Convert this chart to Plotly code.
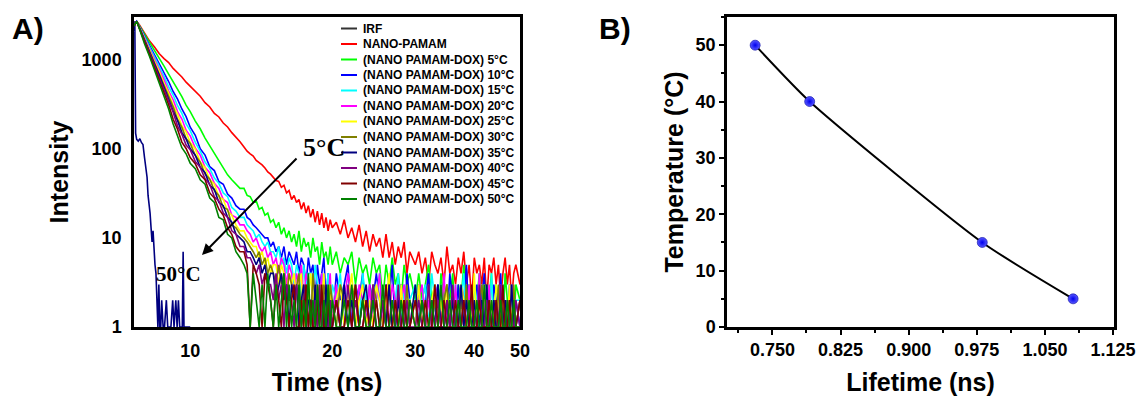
import math
import plotly.graph_objects as go

# ---------------- Panel A data (decay curves) ----------------
time_ns = [7.6, 7.7, 7.8, 8.0, 8.2, 8.4, 8.6, 8.8, 9.0, 9.2, 9.4, 9.6, 9.8, 10.0,
           10.25, 10.5, 10.75, 11.0, 11.25, 11.5, 11.75, 12.0, 12.25, 12.5, 12.75,
           # 13.0 - 20.0 (36)
           13.0, 13.2, 13.4, 13.6, 13.8, 14.0, 14.2, 14.4, 14.6, 14.8,
           15.0, 15.2, 15.4, 15.6, 15.8, 16.0, 16.2, 16.4, 16.6, 16.8,
           17.0, 17.2, 17.4, 17.6, 17.8, 18.0, 18.2, 18.4, 18.6, 18.8,
           19.0, 19.2, 19.4, 19.6, 19.8, 20.0,
           # 20.4 - 30.0 (24)
           20.4, 20.8, 21.2, 21.6, 22.0, 22.4, 22.8, 23.2, 23.6, 24.0,
           24.4, 24.8, 25.2, 25.6, 26.0, 26.4, 26.8, 27.2, 27.6, 28.0,
           28.4, 28.8, 29.2, 30.0,
           # 30.5 - 50.0 (39)
           30.5, 31.0, 31.5, 32.0, 32.5, 33.0, 33.5, 34.0, 34.5, 35.0,
           35.5, 36.0, 36.5, 37.0, 37.5, 38.0, 38.5, 39.0, 39.5, 40.0,
           40.5, 41.0, 41.5, 42.0, 42.5, 43.0, 43.5, 44.0, 44.5, 45.0,
           45.5, 46.0, 46.5, 47.0, 47.5, 48.0, 48.5, 49.0, 50.0]

irf_time = [7.60, 7.63, 7.66, 7.70, 7.76, 7.82, 7.88, 7.94, 8.00, 8.06,
            8.10, 8.14, 8.18, 8.22, 8.26, 8.30, 8.34, 8.38, 8.42, 8.46,
            8.50, 8.54, 8.58, 8.62, 8.66, 8.70, 8.76, 8.82, 8.90, 8.96,
            9.04, 9.10, 9.18, 9.24, 9.32, 9.38, 9.44, 9.50, 9.62, 9.66,
            9.70, 10.0]
irf = [2100, 2700, 150, 128, 122, 130, 118, 112, 80, 55,
       48, 30, 24, 19, 13, 9, 12, 6, 5, 4,
       2, 1, 3, 1, 1, 2, 1, 1, 2, 1,
       1, 1, 2, 1, 2, 1, 2, 1, 1, 7,
       1, 1]

nano_pamam = [2450, 2700, 2480, 1980, 1620, 1390, 1170, 1030, 930, 800, 720, 640, 560, 505,
              440, 390, 330, 295, 250, 228, 195, 176, 152, 136, 120,
              105, 94, 88, 83, 74, 70, 66, 61, 55, 52, 48, 44, 43, 37, 39, 32, 34, 27, 30, 25,
              27, 21, 25, 19, 23, 17, 21, 15, 20, 14, 19, 13, 17, 12, 16, 13,
              15, 11, 16, 10, 13, 9, 14, 8, 12, 7, 11, 8, 10, 6, 11, 6, 9, 5, 8, 6, 9, 4, 7, 5,
              7, 4, 6, 3, 7, 5, 4, 6, 3, 8, 4, 5, 3, 6, 4, 7, 3, 5, 2, 6,
              4, 5, 3, 6, 2, 5, 4, 6, 3, 5, 2, 4, 6, 3, 5, 2, 4, 5, 3]
dox_5 = [2450, 2700, 2420, 1950, 1560, 1290, 1040, 850, 690, 570, 460, 385, 310, 262,
         205, 168, 132, 108, 88, 72, 60, 51, 45, 40, 36,
         36, 30, 29, 25, 26, 21, 22, 18, 19, 15, 16, 13, 15, 11, 13, 10, 12, 9, 11, 8,
         12, 7, 10, 8, 9, 6, 10, 7, 8, 5, 9, 6, 7, 5, 8, 5,
         7, 4, 6, 5, 7, 3, 6, 4, 5, 3, 6, 4, 5, 2, 5, 3, 6, 3, 4, 2, 5, 3, 4, 2,
         4, 2, 3, 5, 2, 3, 1, 4, 2, 3, 2, 4, 1, 3, 2, 5, 2, 3, 1, 3,
         2, 4, 2, 1, 3, 2, 4, 1, 3, 2, 3, 1, 4, 2, 2, 3, 1, 3, 2]
dox_10 = [2450, 2700, 2380, 1850, 1460, 1130, 910, 700, 570, 440, 362, 280, 230, 175,
          142, 100, 85, 63, 57, 43, 40, 31, 28, 23, 21,
          21, 17, 16, 14, 13, 12, 11, 10, 10, 8, 9, 7, 8, 6, 8, 5, 7, 6, 5, 7,
          4, 6, 5, 3, 6, 4, 5, 2, 5, 3, 4, 6, 2, 4, 3, 1,
          4, 2, 3, 5, 1, 3, 2, 4, 1, 3, 2, 4, 2, 1, 3, 2, 5, 1, 2, 3, 1, 4, 2, 1,
          3, 1, 2, 4, 1, 2, 3, 1, 2, 1, 4, 2, 1, 3, 1, 2, 5, 1, 2, 1,
          3, 1, 2, 4, 1, 2, 1, 3, 2, 1, 4, 1, 2, 1, 3, 2, 1, 2, 1]
dox_15 = [2430, 2700, 2350, 1810, 1380, 1085, 828, 655, 498, 402, 305, 250, 190, 160,
          118, 94, 71, 60, 47, 41, 32, 29, 22, 20, 17,
          17, 14, 13, 12, 10, 11, 9, 8, 9, 7, 7, 6, 8, 5, 6, 4, 6, 5, 3, 5,
          4, 2, 5, 3, 4, 4, 2, 5, 3, 1, 4, 3, 2, 4, 1, 3,
          2, 4, 1, 3, 2, 3, 1, 4, 2, 1, 3, 2, 4, 1, 2, 3, 1, 2, 4, 1, 3, 1, 2, 3,
          1, 2, 3, 1, 4, 2, 1, 3, 1, 2, 2, 1, 3, 1, 2, 4, 1, 2, 1, 3,
          2, 1, 1, 3, 2, 1, 4, 1, 2, 1, 2, 3, 1, 2, 1, 3, 1, 2, 2]
dox_20 = [2420, 2700, 2330, 1750, 1320, 1025, 765, 598, 445, 356, 262, 216, 162, 140,
          102, 85, 62, 54, 41, 36, 27, 25, 18, 17, 14,
          14, 12, 11, 9, 10, 8, 7, 8, 6, 7, 5, 6, 4, 6, 5, 3, 5, 4, 2, 4,
          3, 5, 2, 4, 3, 1, 4, 2, 3, 2, 4, 1, 3, 2, 4, 1,
          3, 1, 2, 4, 2, 1, 3, 2, 1, 3, 1, 2, 4, 1, 2, 1, 3, 2, 1, 2, 3, 1, 2, 1,
          2, 3, 1, 2, 1, 3, 2, 1, 4, 1, 2, 1, 3, 1, 2, 2, 1, 3, 1, 2,
          1, 4, 1, 2, 1, 3, 1, 2, 1, 2, 3, 1, 1, 2, 1, 3, 2, 1, 2]
dox_25 = [2420, 2700, 2320, 1700, 1290, 960, 735, 540, 422, 310, 246, 182, 154, 118,
          99, 71, 61, 45, 40, 29, 27, 20, 18, 14, 12,
          12, 10, 9, 8, 8, 6, 7, 5, 6, 4, 5, 5, 3, 5, 4, 2, 4, 3, 4, 2,
          3, 4, 1, 3, 2, 4, 2, 3, 1, 3, 2, 4, 1, 2, 3, 1,
          2, 3, 1, 2, 4, 1, 2, 3, 1, 2, 1, 3, 2, 1, 2, 4, 1, 2, 1, 3, 1, 2, 2, 1,
          3, 1, 2, 1, 2, 3, 1, 2, 1, 3, 1, 2, 1, 1, 3, 2, 1, 2, 1, 4,
          1, 2, 1, 3, 1, 1, 2, 1, 3, 2, 1, 2, 1, 1, 3, 1, 2, 1, 2]
dox_30 = [2410, 2700, 2300, 1675, 1235, 945, 680, 525, 380, 296, 214, 174, 131, 115,
          84, 71, 52, 46, 34, 30, 22, 21, 14, 13, 11,
          10, 9, 8, 7, 6, 7, 5, 6, 4, 5, 4, 3, 5, 3, 4, 2, 4, 3, 2, 3,
          4, 1, 3, 2, 3, 1, 4, 2, 2, 3, 1, 3, 2, 1, 3, 2,
          1, 3, 2, 1, 2, 3, 1, 2, 1, 1, 3, 2, 1, 2, 1, 3, 1, 2, 1, 2, 1, 3, 1, 2,
          1, 2, 1, 3, 1, 2, 1, 1, 2, 3, 1, 2, 1, 1, 2, 1, 3, 1, 2, 1,
          1, 2, 3, 1, 1, 2, 1, 2, 1, 3, 1, 1, 2, 1, 2, 1, 3, 1, 1]
dox_35 = [2400, 2700, 2300, 1640, 1225, 895, 670, 484, 372, 266, 208, 152, 129, 100,
          85, 62, 54, 39, 35, 25, 23, 17, 15, 11, 10,
          9, 7, 7, 6, 5, 6, 4, 5, 3, 4, 4, 2, 3, 4, 2, 3, 1, 3, 2, 3,
          1, 2, 3, 1, 2, 2, 1, 3, 1, 2, 2, 1, 3, 1, 2, 1,
          2, 1, 3, 1, 2, 1, 1, 2, 3, 1, 2, 1, 1, 2, 1, 3, 1, 1, 2, 1, 2, 1, 1, 3,
          1, 2, 1, 1, 2, 1, 3, 1, 1, 2, 1, 2, 1, 1, 3, 1, 2, 1, 1, 2,
          1, 1, 2, 1, 3, 1, 1, 2, 1, 1, 2, 1, 2, 1, 1, 3, 1, 1, 2]
dox_40 = [2400, 2700, 2280, 1620, 1170, 880, 620, 470, 332, 257, 180, 146, 110, 98,
          72, 62, 46, 40, 29, 26, 19, 17, 12, 11, 8,
          8, 6, 6, 5, 4, 5, 3, 4, 3, 3, 2, 4, 2, 3, 1, 3, 2, 2, 1, 3,
          2, 1, 2, 3, 1, 2, 1, 2, 1, 3, 1, 2, 1, 1, 2, 1,
          2, 1, 1, 3, 1, 2, 1, 1, 2, 1, 3, 1, 1, 2, 1, 1, 2, 1, 3, 1, 1, 2, 1, 1,
          2, 1, 1, 3, 1, 1, 2, 1, 1, 2, 1, 3, 1, 1, 1, 2, 1, 1, 2, 1,
          1, 3, 1, 1, 2, 1, 1, 1, 2, 1, 3, 1, 1, 2, 1, 1, 1, 2, 1]
dox_45 = [2390, 2700, 2260, 1560, 1135, 815, 590, 415, 312, 215, 166, 119, 101, 80,
          68, 51, 45, 32, 28, 21, 18, 13, 11, 8, 7,
          7, 5, 1, 5, 4, 3, 1, 4, 3, 2, 1, 3, 2, 1, 3, 2, 1, 2, 3, 1,
          1, 2, 1, 3, 1, 2, 1, 1, 2, 1, 3, 1, 1, 2, 1, 1,
          2, 1, 1, 2, 1, 3, 1, 1, 2, 1, 1, 2, 1, 1, 3, 1, 1, 2, 1, 1, 2, 1, 1, 2,
          1, 1, 2, 1, 1, 3, 1, 1, 2, 1, 1, 1, 2, 1, 1, 2, 1, 1, 3, 1,
          1, 2, 1, 1, 1, 2, 1, 1, 2, 1, 1, 3, 1, 1, 2, 1, 1, 1, 2]
dox_50 = [2400, 2700, 2250, 1510, 1090, 770, 548, 378, 280, 190, 143, 103, 88, 69,
          60, 45, 40, 28, 25, 17, 16, 11, 10, 7, 6,
          5, 4, 1, 4, 2, 1, 3, 1, 4, 2, 1, 3, 1, 2, 4, 1, 3, 1, 2, 1,
          3, 1, 2, 1, 4, 1, 2, 1, 3, 1, 1, 2, 1, 3, 1, 2,
          1, 1, 2, 1, 3, 1, 1, 2, 1, 1, 2, 1, 1, 3, 1, 1, 2, 1, 1, 2, 1, 1, 2, 1,
          1, 2, 1, 1, 2, 1, 1, 3, 1, 1, 2, 1, 1, 2, 1, 1, 1, 2, 1, 1,
          2, 1, 1, 3, 1, 1, 2, 1, 1, 1, 2, 1, 1, 2, 1, 1, 2, 1, 1]

series_names = ["NANO-PAMAM", "(NANO PAMAM-DOX) 5°C", "(NANO PAMAM-DOX) 10°C",
                "(NANO PAMAM-DOX) 15°C", "(NANO PAMAM-DOX) 20°C", "(NANO PAMAM-DOX) 25°C",
                "(NANO PAMAM-DOX) 30°C", "(NANO PAMAM-DOX) 35°C", "(NANO PAMAM-DOX) 40°C",
                "(NANO PAMAM-DOX) 45°C", "(NANO PAMAM-DOX) 50°C"]
series_values = [nano_pamam, dox_5, dox_10, dox_15, dox_20, dox_25, dox_30,
                 dox_35, dox_40, dox_45, dox_50]
series_colors = ["#FF0000", "#00FF00", "#0000FF", "#00FFFF", "#FF00FF", "#FFFF00",
                 "#808000", "#000080", "#800080", "#800000", "#008000"]
irf_color = "#000080"
irf_legend_color = "#333333"

x_ticks_a = [10, 20, 30, 40, 50]
y_ticks_a = [1, 10, 100, 1000]

# ---------------- Panel B data ----------------
lifetime_ns = [0.731, 0.791, 0.981, 1.081]
temperature_c = [50, 40, 15, 5]

for v in series_values:
    assert len(v) == len(time_ns), (len(v), len(time_ns))
assert len(irf) == len(irf_time)

fig = go.Figure()

fig.add_trace(go.Scatter(x=irf_time, y=irf, mode="lines", name="IRF",
                         line=dict(color=irf_color, width=1.6),
                         xaxis="x", yaxis="y"))
for name, vals, col in zip(series_names, series_values, series_colors):
    fig.add_trace(go.Scatter(x=time_ns, y=vals, mode="lines", name=name,
                             line=dict(color=col, width=1.6),
                             xaxis="x", yaxis="y"))

fig.add_trace(go.Scatter(x=lifetime_ns, y=temperature_c, mode="lines+markers",
                         name="Lifetime", xaxis="x2", yaxis="y2",
                         line=dict(color="black", width=2, shape="spline", smoothing=0.6),
                         marker=dict(size=10, color="#5a5aff",
                                     gradient=dict(type="radial", color="#0000ee"),
                                     line=dict(color="#0000a0", width=0.6))))

W, H = 1142, 398
L, R, T, B = 134, 28, 17, 71
pw, ph = W - L - R, H - T - B


def px(x):
    return (x - L) / pw


def py(y):
    return (T + ph - y) / ph


bold = "bold"
fam = "Liberation Sans, Arial, sans-serif"
serif = "Liberation Serif, Times New Roman, serif"
axis_common = dict(showline=True, linewidth=2.5, linecolor="black", mirror=True,
                   showgrid=False, zeroline=False, automargin=False)

fig.update_layout(
    width=W, height=H, margin=dict(l=L, r=R, t=T, b=B, autoexpand=False),
    paper_bgcolor="white", plot_bgcolor="white", showlegend=False,
    font=dict(family=fam, color="black"),
    xaxis=dict(domain=[0, (520 - L) / pw], type="log",
               range=[math.log10(7.6), math.log10(50)],
               tickvals=x_ticks_a, ticktext=[str(v) for v in x_ticks_a],
               ticks="", tickfont=dict(size=18, weight=bold, family=fam),
               ticklabelstandoff=6,
               title=dict(text="Time (ns)", font=dict(size=25, weight=bold, family=fam), standoff=14),
               **axis_common),
    yaxis=dict(type="log", range=[0, 3.48],
               tickvals=y_ticks_a, ticktext=[str(v) for v in y_ticks_a],
               ticks="", tickfont=dict(size=18, weight=bold, family=fam),
               ticklabelstandoff=6,
               title=dict(text="Intensity", font=dict(size=25, weight=bold, family=fam), standoff=6),
               **axis_common),
    xaxis2=dict(domain=[(727 - L) / pw, 1], anchor="y2", range=[0.7, 1.126],
                tick0=0.75, dtick=0.075, tickformat=".3f",
                ticks="outside", ticklen=5, tickwidth=2, tickcolor="black",
                minor=dict(ticks="outside", ticklen=3, tickwidth=1.5, tick0=0.75, dtick=0.0375,
                           tickcolor="black", showgrid=False),
                tickfont=dict(size=18, weight=bold, family=fam),
                title=dict(text="Lifetime (ns)", font=dict(size=25, weight=bold, family=fam), standoff=15),
                **axis_common),
    yaxis2=dict(anchor="x2", range=[0, 55], tick0=0, dtick=10,
                ticks="outside", ticklen=5, tickwidth=2, tickcolor="black",
                minor=dict(ticks="outside", ticklen=3, tickwidth=1.5, tick0=0, dtick=5,
                           tickcolor="black", showgrid=False),
                tickfont=dict(size=18, weight=bold, family=fam),
                title=dict(text="Temperature (°C)", font=dict(size=25, weight=bold, family=fam), standoff=5),
                **axis_common),
)

annotations = []
shapes = []

# panel labels
annotations.append(dict(text="A)", x=px(10), y=py(29), xref="paper", yref="paper",
                        xanchor="left", yanchor="middle", showarrow=False,
                        font=dict(size=30, weight=bold, family=fam)))
annotations.append(dict(text="B)", x=px(597), y=py(29), xref="paper", yref="paper",
                        xanchor="left", yanchor="middle", showarrow=False,
                        font=dict(size=30, weight=bold, family=fam)))

# manual legend
legend_names = ["IRF"] + series_names
legend_colors = [irf_legend_color] + series_colors
for i, (nm, col) in enumerate(zip(legend_names, legend_colors)):
    yy = 28.5 + 15.5 * i
    shapes.append(dict(type="line", xref="paper", yref="paper",
                       x0=px(341), x1=px(357), y0=py(yy), y1=py(yy),
                       line=dict(color=col, width=2)))
    annotations.append(dict(text=nm, x=px(361), y=py(yy), xref="paper", yref="paper",
                            xanchor="left", yanchor="middle", showarrow=False,
                            font=dict(size=12, weight=bold, family=fam)))

# temperature arrow and labels
annotations.append(dict(text="", x=px(202), y=py(255), xref="paper", yref="paper",
                        ax=96, ay=-98, showarrow=True, arrowhead=2, arrowsize=1.1,
                        arrowwidth=2, arrowcolor="black"))
annotations.append(dict(text="5°C", x=px(324), y=py(147), xref="paper", yref="paper",
                        xanchor="center", yanchor="middle", showarrow=False,
                        font=dict(size=26, weight=bold, family=serif)))
annotations.append(dict(text="50°C", x=px(178), y=py(274), xref="paper", yref="paper",
                        xanchor="center", yanchor="middle", showarrow=False,
                        font=dict(size=21, weight=bold, family=serif)))

fig.update_layout(annotations=annotations, shapes=shapes)

fig.write_html("out.html")
